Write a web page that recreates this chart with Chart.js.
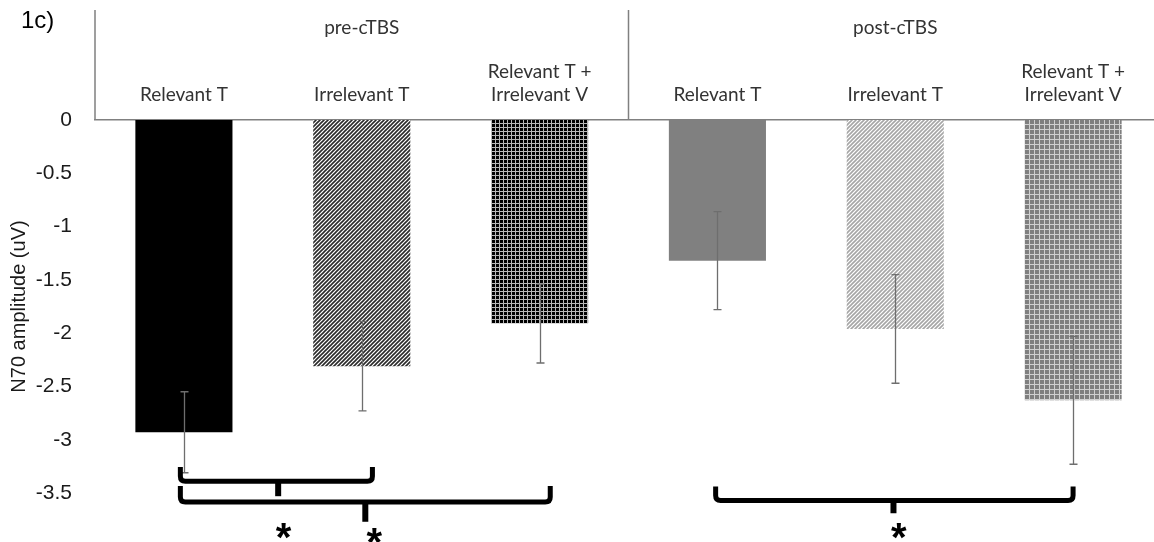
<!DOCTYPE html>
<html>
<head>
<meta charset="utf-8">
<script src="https://cdn.jsdelivr.net/npm/chart.js@4/dist/chart.umd.min.js"></script>
<style>
  html, body { margin: 0; padding: 0; background: #fff; overflow: hidden; }
  canvas { display: block; }
</style>
</head>
<body>
<canvas id="n70" width="1162" height="542"></canvas>
<script>
// values
const groups = ["pre-cTBS", "post-cTBS"]
const conditions = ["Relevant T", "Irrelevant T", ["Relevant T +", "Irrelevant V"]]
const categories = [...conditions, ...conditions]
const amplitude = [-2.93, -2.31, -1.91, -1.32, -1.96, -2.63]
const errors = [0.38, 0.42, 0.37, 0.46, 0.51, 0.60]
const yTicks = [0, -0.5, -1, -1.5, -2, -2.5, -3, -3.5]

// significance brackets (category index / value units)
const brackets = [
  { from: -0.02, to: 1.06, top: -3.255, mid: -3.39, tick: 0.53, end: -3.53, star: 0.56, starY: -3.83 },
  { from: -0.02, to: 2.06, top: -3.435, mid: -3.585, tick: 1.02, end: -3.77, star: 1.07, starY: -3.88 },
  { from: 2.99, to: 5.0, top: -3.44, mid: -3.57, tick: 3.99, end: -3.69, star: 4.02, starY: -3.83 },
]

const sans = "Arial, 'Liberation Sans', sans-serif"

function diagPattern(fg, bg, p, w) {
  const c = document.createElement("canvas")
  c.width = p
  c.height = p
  const g = c.getContext("2d")
  g.fillStyle = bg
  g.fillRect(0, 0, p, p)
  g.strokeStyle = fg
  g.lineWidth = w
  g.beginPath()
  g.moveTo(-1, p + 1); g.lineTo(p + 1, -1)
  g.moveTo(-1, 1); g.lineTo(1, -1)
  g.moveTo(p - 1, p + 1); g.lineTo(p + 1, p - 1)
  g.stroke()
  return g.createPattern(c, "repeat")
}

function gridPattern(fg, bg, p) {
  const c = document.createElement("canvas")
  c.width = p
  c.height = p
  const g = c.getContext("2d")
  g.fillStyle = bg
  g.fillRect(0, 0, p, p)
  g.fillStyle = fg
  g.fillRect(p - 1, 0, 1, p)
  g.fillRect(0, p - 1, p, 1)
  return g.createPattern(c, "repeat")
}

const fills = [
  "#000000",
  diagPattern("#2a2a2a", "#ffffff", 4, 1.6),
  gridPattern("#b8b8b8", "#000000", 4),
  "#808080",
  diagPattern("#a6a6a6", "#ffffff", 4, 1.6),
  gridPattern("#d0d0d0", "#7f7f7f", 5),
]

const decor = {
  id: "decor",
  afterDraw(chart) {
    const { ctx, chartArea, scales } = chart
    const x = scales.x
    const y = scales.y
    ctx.save()

    // header frame lines
    ctx.strokeStyle = "#808080"
    ctx.lineWidth = 1.5
    const split = (x.getPixelForValue(2) + x.getPixelForValue(3)) / 2
    ctx.beginPath()
    ctx.moveTo(chartArea.left, 10); ctx.lineTo(chartArea.left, chartArea.top)
    ctx.moveTo(split, 10); ctx.lineTo(split, chartArea.top)
    ctx.stroke()

    // group labels
    ctx.fillStyle = "#333"
    ctx.font = "19px Lato"
    ctx.textAlign = "center"
    ctx.textBaseline = "middle"
    groups.forEach((g, i) => {
      ctx.fillText(g, x.getPixelForValue(i * 3 + 1), 28)
    })

    // panel tag
    ctx.fillStyle = "#000"
    ctx.font = "24px " + sans
    ctx.textAlign = "left"
    ctx.fillText("1c)", 21, 21)

    // error bars
    ctx.strokeStyle = "#6e6e6e"
    ctx.lineWidth = 1.3
    amplitude.forEach((v, i) => {
      const px = Math.round(x.getPixelForValue(i)) + 0.5
      const hi = y.getPixelForValue(v + errors[i])
      const lo = y.getPixelForValue(v - errors[i])
      ctx.beginPath()
      ctx.moveTo(px, hi); ctx.lineTo(px, lo)
      ctx.moveTo(px - 4, hi); ctx.lineTo(px + 4, hi)
      ctx.moveTo(px - 4, lo); ctx.lineTo(px + 4, lo)
      ctx.stroke()
    })

    // brackets and stars
    ctx.strokeStyle = "#000"
    ctx.fillStyle = "#000"
    ctx.lineCap = "butt"
    ctx.lineJoin = "round"
    brackets.forEach(b => {
      const x1 = x.getPixelForValue(b.from)
      const x2 = x.getPixelForValue(b.to)
      const yt = y.getPixelForValue(b.top)
      const ym = y.getPixelForValue(b.mid)
      const r = 5
      ctx.lineWidth = 5
      ctx.beginPath()
      ctx.moveTo(x1, yt)
      ctx.lineTo(x1, ym - r)
      ctx.quadraticCurveTo(x1, ym, x1 + r, ym)
      ctx.lineTo(x2 - r, ym)
      ctx.quadraticCurveTo(x2, ym, x2, ym - r)
      ctx.lineTo(x2, yt)
      ctx.stroke()
      const xc = x.getPixelForValue(b.tick)
      ctx.lineWidth = 6
      ctx.beginPath()
      ctx.moveTo(xc, ym)
      ctx.lineTo(xc, y.getPixelForValue(b.end))
      ctx.stroke()
      ctx.font = "bold 40px " + sans
      ctx.textAlign = "center"
      ctx.textBaseline = "alphabetic"
      ctx.fillText("*", x.getPixelForValue(b.star), y.getPixelForValue(b.starY) + 23)
    })
    ctx.restore()
  },
}

new Chart(document.getElementById("n70"), {
  type: "bar",
  data: {
    labels: categories,
    datasets: [
      {
        data: amplitude,
        backgroundColor: fills,
        borderWidth: 0,
        barPercentage: 0.546,
        categoryPercentage: 1,
      },
    ],
  },
  options: {
    responsive: false,
    animation: false,
    layout: { padding: { top: 10, bottom: 49, left: 0, right: 0 } },
    plugins: {
      legend: { display: false },
      tooltip: { enabled: false },
    },
    scales: {
      x: {
        position: "top",
        grid: { display: false, drawTicks: false },
        border: { display: true, color: "#808080", width: 1.5 },
        ticks: {
          color: "#333",
          font: { family: "Lato", size: 19 },
          padding: 14,
          maxRotation: 0,
          autoSkip: false,
        },
        afterFit(scale) { scale.height = 110 },
      },
      y: {
        min: -3.5,
        max: 0,
        grid: { display: false, drawTicks: false },
        border: { display: false },
        afterBuildTicks(scale) { scale.ticks = yTicks.map(v => ({ value: v })) },
        ticks: {
          color: "#1a1a1a",
          font: { family: sans, size: 21 },
          padding: 23,
          callback: v => String(v),
        },
        title: {
          display: true,
          text: "N70 amplitude (uV)",
          color: "#1a1a1a",
          font: { family: sans, size: 20 },
          padding: { top: 7, bottom: 0 },
        },
        afterFit(scale) { scale.width = 95 },
      },
    },
  },
  plugins: [decor],
})
</script>
</body>
</html>
